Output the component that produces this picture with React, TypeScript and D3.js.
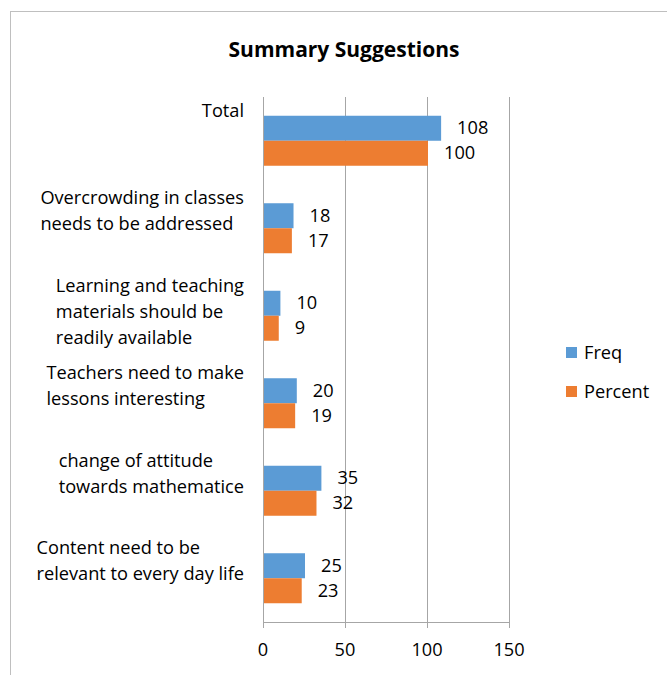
import React, { useEffect, useRef } from "react";
import * as d3 from "d3";

const categories: string[][] = [
  ["Total"],
  ["Overcrowding in classes", "needs to be addressed"],
  ["Learning and teaching", "materials should be", "readily available"],
  ["Teachers need to make", "lessons interesting"],
  ["change of attitude", "towards mathematice"],
  ["Content need to be", "relevant to every day life"],
];
const freq = [108, 18, 10, 20, 35, 25];
const percent = [100, 17, 9, 19, 32, 23];
const xTicks = [0, 50, 100, 150];
const seriesNames = ["Freq", "Percent"];
const colors = ["#5B9BD5", "#ED7D31"];

const W = 667;
const H = 675;
const FONT = "'Open Sans', sans-serif";
const FS = 18.2;

export default function App() {
  const ref = useRef<SVGSVGElement>(null);

  useEffect(() => {
    const svg = d3.select(ref.current);
    svg.selectAll("*").remove();

    const x = d3.scaleLinear().domain([0, 150]).range([263, 509]);
    const y = d3.scaleBand<number>().domain(d3.range(categories.length)).range([97, 622]);
    const barH = 25;

    // chart border
    svg.append("rect").attr("x", 10.5).attr("y", 11.5).attr("width", 700).attr("height", 700)
      .attr("fill", "none").attr("stroke", "#bfbfbf").attr("stroke-width", 1);

    // title
    svg.append("text").attr("x", 344).attr("y", 57).attr("text-anchor", "middle")
      .attr("font-family", FONT).attr("font-weight", "bold").attr("font-size", 21)
      .attr("fill", "#000").text("Summary Suggestions");

    // gridlines
    svg.append("g").selectAll("line").data(xTicks).join("line")
      .attr("x1", (d) => x(d) + 0.5).attr("x2", (d) => x(d) + 0.5)
      .attr("y1", 97).attr("y2", 628)
      .attr("stroke", "#a6a6a6").attr("stroke-width", 1);
    // axis line
    svg.append("line").attr("x1", x(0)).attr("x2", x(150) + 1).attr("y1", 622.5).attr("y2", 622.5)
      .attr("stroke", "#a6a6a6");

    // tick labels
    svg.append("g").selectAll("text").data(xTicks).join("text")
      .attr("x", (d) => x(d)).attr("y", 656).attr("text-anchor", "middle")
      .attr("font-family", FONT).attr("font-size", FS).attr("fill", "#000")
      .text((d) => String(d));

    // bars
    const series = [freq, percent];
    series.forEach((vals, si) => {
      const g = svg.append("g");
      g.selectAll("rect").data(vals).join("rect")
        .attr("x", x(0) + 1)
        .attr("y", (_d, i) => (y(i) as number) + y.bandwidth() / 2 - barH + si * barH)
        .attr("width", (d) => x(d) - x(0))
        .attr("height", barH)
        .attr("fill", colors[si]);
      g.selectAll("text").data(vals).join("text")
        .attr("x", (d) => x(d) + 17)
        .attr("y", (_d, i) => (y(i) as number) + y.bandwidth() / 2 - barH + si * barH + barH / 2 + 6)
        .attr("font-family", FONT).attr("font-size", FS).attr("fill", "#000")
        .text((d) => String(d));
    });

    // category labels (block right-aligned, lines left-aligned)
    categories.forEach((lines, i) => {
      const cy = (y(i) as number) + y.bandwidth() / 2;
      const g = svg.append("g");
      const texts = lines.map((ln, li) =>
        g.append("text").attr("y", cy - 30 + li * 26 + 6)
          .attr("font-family", FONT).attr("font-size", FS).attr("fill", "#000").text(ln)
      );
      const maxW = d3.max(texts, (t) => (t.node() as SVGTextElement).getComputedTextLength()) || 0;
      texts.forEach((t) => t.attr("x", 244 - maxW));
    });

    // legend
    seriesNames.forEach((name, i) => {
      const ly = 353 + i * 39;
      svg.append("rect").attr("x", 566).attr("y", ly - 6).attr("width", 11).attr("height", 11)
        .attr("fill", colors[i]);
      svg.append("text").attr("x", 584).attr("y", ly + 6)
        .attr("font-family", FONT).attr("font-size", FS).attr("fill", "#000").text(name);
    });
  }, []);

  return (
    <svg ref={ref} width={W} height={H}
      style={{ position: "absolute", left: 0, top: 0, background: "#fff" }} />
  );
}
